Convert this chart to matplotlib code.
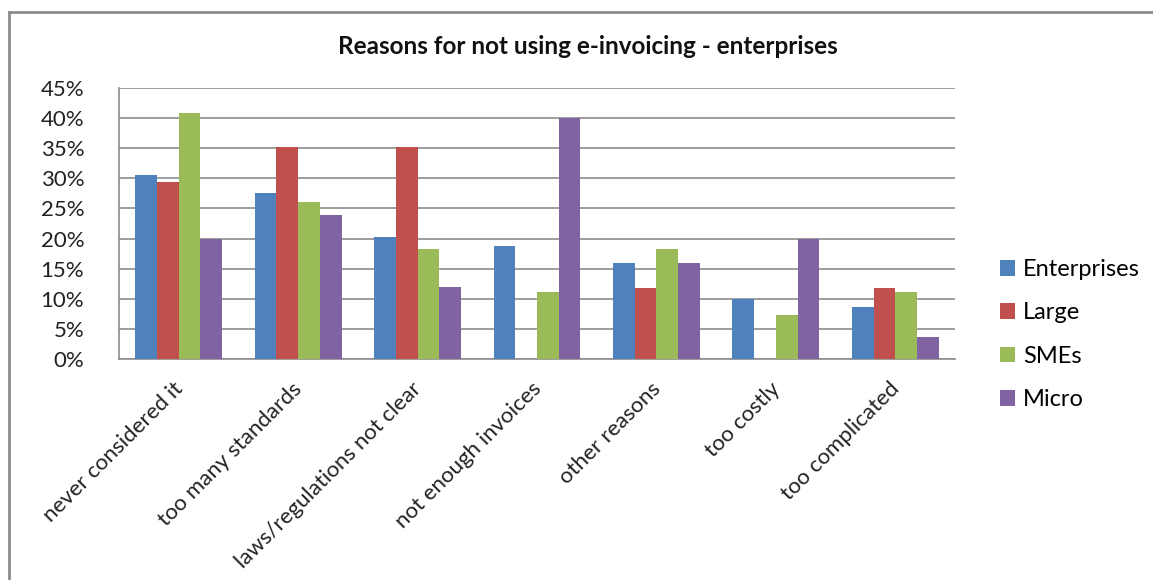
import matplotlib
matplotlib.use("Agg")
import matplotlib.pyplot as plt
import matplotlib.transforms as mtrans
import numpy as np
from matplotlib.lines import Line2D
from matplotlib.ticker import FuncFormatter, MultipleLocator

categories = ["never considered it", "too many standards", "laws/regulations not clear",
              "not enough invoices", "other reasons", "too costly", "too complicated"]
series_names = ["Enterprises", "Large", "SMEs", "Micro"]
enterprises = [30.5, 27.5, 20.2, 18.7, 15.9, 10.0, 8.6]
large = [29.4, 35.2, 35.2, 0.0, 11.8, 0.0, 11.8]
smes = [40.8, 26.0, 18.3, 11.05, 18.3, 7.3, 11.05]
micro = [20.0, 23.9, 12.0, 40.0, 15.9, 20.0, 3.7]
colors = ["#4F81BD", "#C0504D", "#9BBB59", "#8064A2"]
title = "Reasons for not using e-invoicing - enterprises"

plt.rcParams['font.family'] = ['Lato', 'DejaVu Sans']

fig = plt.figure(figsize=(11.53, 5.80), dpi=100)
W, H = 1153, 580
# outer chart border
fig.add_artist(Line2D([9 / W, 9 / W], [0, 1 - 12 / H], transform=fig.transFigure, color="#8c8c8c", lw=2))
fig.add_artist(Line2D([9 / W, 1], [1 - 12 / H, 1 - 12 / H], transform=fig.transFigure, color="#8c8c8c", lw=2))

ax = fig.add_axes([119 / W, 1 - 359 / H, (955 - 119) / W, (359 - 88) / H])
x = np.arange(len(categories))
bw = 0.182
all_series = [enterprises, large, smes, micro]
for i, (name, vals) in enumerate(zip(series_names, all_series)):
    ax.bar(x + (i - 1.5) * bw, vals, bw, color=colors[i], label=name, zorder=3)

ax.set_xlim(-0.5, len(categories) - 0.5)
ax.set_ylim(0, 45)
ax.yaxis.set_major_locator(MultipleLocator(5))
ax.yaxis.set_major_formatter(FuncFormatter(lambda v, p: f"{int(round(v))}%"))
ax.grid(axis="y", color="#8c8c8c", lw=1.2, zorder=0)
for s in ["top", "right"]:
    ax.spines[s].set_visible(False)
ax.spines["left"].set_color("#8c8c8c")
ax.spines["bottom"].set_color("#8c8c8c")
ax.spines["left"].set_linewidth(1.2)
ax.spines["bottom"].set_linewidth(1.2)
ax.tick_params(axis="y", length=0, labelsize=16, pad=25, colors="#222222")
ax.tick_params(axis="x", length=0, pad=4)
ax.set_xticks(x)
ax.set_xticklabels(categories, rotation=45, ha="right", rotation_mode="anchor",
                   fontsize=16, color="#222222")
offset = mtrans.ScaledTranslation(-6 / 100, -14 / 100, fig.dpi_scale_trans)
for lab in ax.get_xticklabels():
    lab.set_transform(lab.get_transform() + offset)

fig.text(588 / W, 1 - 46 / H, title, ha="center", va="center", fontsize=17.5, fontweight="bold", color="#111111")

leg = ax.legend(loc="center left", bbox_to_anchor=(1.028, 0.09), frameon=False, fontsize=17,
                handlelength=0.65, handleheight=0.65, handletextpad=0.35, labelspacing=0.95)

fig.savefig("out.png", dpi=100)
